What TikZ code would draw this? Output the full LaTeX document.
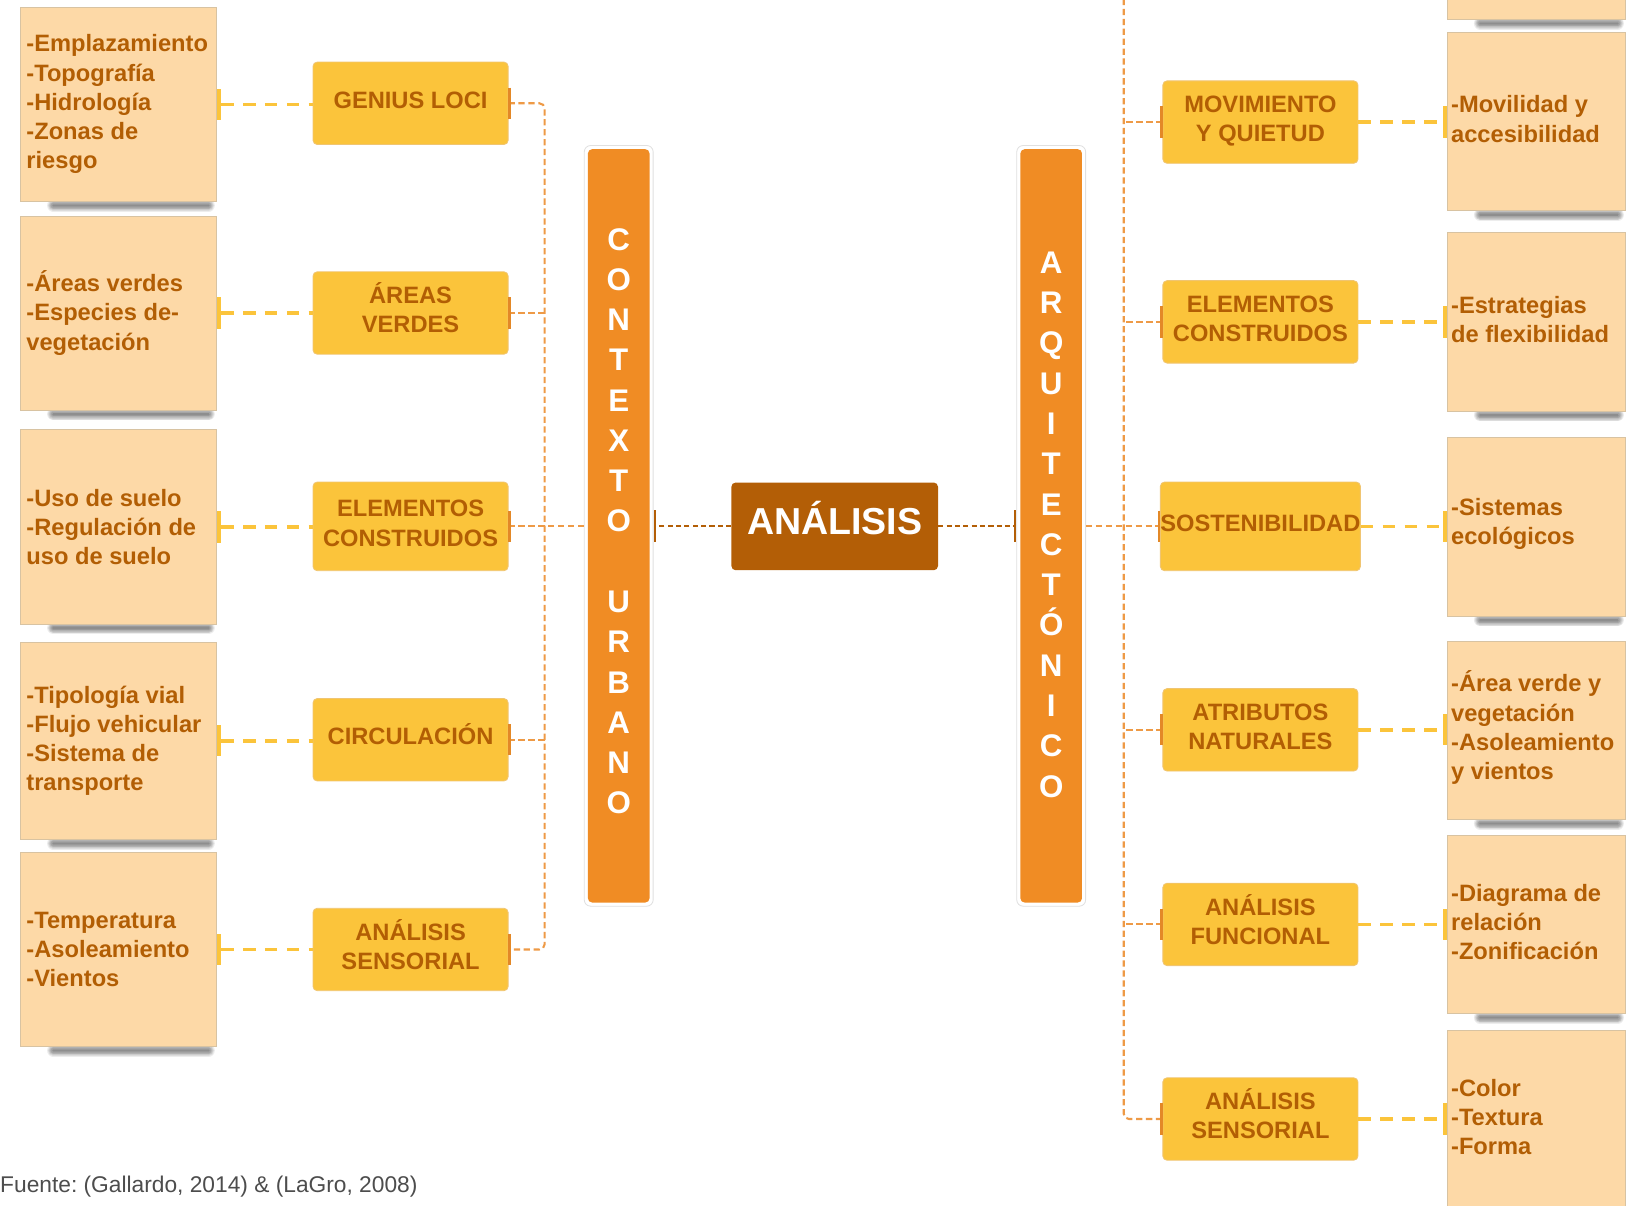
\documentclass[tikz,border=0pt]{standalone}
\usepackage{fontspec}
\setmainfont{Liberation Sans}
\usetikzlibrary{calc}
\definecolor{notefill}{HTML}{FDD9A7}
\definecolor{noteborder}{HTML}{D8C3A2}
\definecolor{midfill}{HTML}{FBC43B}
\definecolor{midborder}{HTML}{F0C572}
\definecolor{txtbrown}{HTML}{B25E04}
\definecolor{barfill}{HTML}{F08C24}
\definecolor{anafill}{HTML}{B35E06}
\definecolor{treeorange}{HTML}{EE9A46}
\definecolor{tickorange}{HTML}{E38827}
\definecolor{yellowdash}{HTML}{FBC43B}
\definecolor{footgray}{HTML}{4D4D4D}
\pgfdeclarelayer{bg}
\pgfsetlayers{bg,main}
\frenchspacing
\begin{document}
\begin{tikzpicture}[x=1pt,y=-1pt,
  notebox/.style={rectangle, fill=notefill, draw=noteborder, line width=0.8pt, inner sep=0pt},
  lnote/.style={notebox, minimum width=188pt, minimum height=186pt},
  rnote/.style={notebox, minimum width=171pt, minimum height=171pt},
  notetext/.style={anchor=west, align=left, inner sep=0pt, text=txtbrown, font=\bfseries\fontsize{22.7}{28}\selectfont},
  midbox/.style={rectangle, rounded corners=4pt, fill=midfill, draw=midborder, line width=0.8pt, minimum width=187pt, minimum height=79pt, align=center, inner sep=0pt, text height=10pt, text depth=0pt, text=txtbrown, font=\bfseries\fontsize{22.7}{28}\selectfont},
  midtwo/.style={midbox, text height=38pt, text depth=0pt},
  barframe/.style={rectangle, rounded corners=6pt, fill=white, draw=black!12, line width=0.8pt, minimum width=66pt, minimum height=729pt, inner sep=0pt},
  barbox/.style={rectangle, rounded corners=4pt, fill=barfill, minimum width=59pt, minimum height=722pt, inner sep=0pt},
  barletters/.style={align=center, inner sep=0pt, text=white, font=\bfseries\fontsize{30}{38.6}\selectfont},
  yellowline/.style={draw=yellowdash, line width=3.5pt, dash pattern=on 12pt off 9pt},
  treeline/.style={draw=treeorange, line width=2pt, dash pattern=on 6pt off 3.5pt},
  brownline/.style={draw=anafill, line width=2pt, dash pattern=on 5pt off 3pt},
  ticko/.style={draw=tickorange, line width=2.5pt},
  tickb/.style={draw=anafill, line width=2pt},
]
\useasboundingbox (0,0) rectangle (1568,1155);
\clip (0,0) rectangle (1568,1155);

% ---------- left notes ----------
\node[lnote] (L1) at (113.5,100) {};
\node[lnote] (L2) at (113.5,300) {};
\node[lnote] (L3) at (113.5,505) {};
\node[lnote, minimum height=189pt] (L4) at (113.5,710) {};
\node[lnote] (L5) at (113.5,910) {};
\node[notetext] (L1t) at ([xshift=6pt]L1.west) {-Emplazamiento\\-Topografía\\-Hidrología\\-Zonas de\\riesgo};
\node[notetext] (L2t) at ([xshift=6pt]L2.west) {-Áreas verdes\\-Especies de-\\vegetación};
\node[notetext] (L3t) at ([xshift=6pt]L3.west) {-Uso de suelo\\-Regulación de\\uso de suelo};
\node[notetext] (L4t) at ([xshift=6pt]L4.west) {-Tipología vial\\-Flujo vehicular\\-Sistema de\\transporte};
\node[notetext] (L5t) at ([xshift=6pt]L5.west) {-Temperatura\\-Asoleamiento\\-Vientos};

% ---------- left mid boxes ----------
\node[midbox] (M1) at (393.5,99) {GENIUS LOCI};
\node[midtwo] (M2) at (393.5,300) {ÁREAS\\VERDES};
\node[midtwo, minimum height=85pt] (M3) at (393.5,504.5) {ELEMENTOS\\CONSTRUIDOS};
\node[midbox] (M4) at (393.5,709) {CIRCULACIÓN};
\node[midtwo] (M5) at (393.5,910) {ANÁLISIS\\SENSORIAL};

% ---------- bars ----------
\node[barframe] (ctxf) at (593,504) {};
\node[barbox] (ctx) at (593,504) {};
\node[barletters] (ctxl) at (593,499.5) {C\\O\\N\\T\\E\\X\\T\\O\\\mbox{}\\U\\R\\B\\A\\N\\O};
\node[barframe] (arqf) at (1007.5,504) {};
\node[barbox] (arq) at (1007.5,504) {};
\node[barletters] (arql) at (1007.5,502.8) {A\\R\\Q\\U\\I\\T\\E\\C\\T\\Ó\\N\\I\\C\\O};

% ---------- center ----------
\node[rectangle, rounded corners=4pt, fill=anafill, minimum width=198pt, minimum height=84pt, inner sep=0pt] (ana) at (800,504.5) {};
\node[anchor=base, inner sep=0pt, text=white, font=\bfseries\fontsize{36}{40}\selectfont] (anal) at (800,512) {ANÁLISIS};

% ---------- right mid boxes ----------
\node[midtwo] (N1) at (1208,117) {MOVIMIENTO\\Y QUIETUD};
\node[midtwo] (N2) at (1208,308.5) {ELEMENTOS\\CONSTRUIDOS};
\node[midbox, minimum height=85pt] (N3) at (1208,504.5) {SOSTENIBILIDAD};
\node[midtwo] (N4) at (1208,699.5) {ATRIBUTOS\\NATURALES};
\node[midtwo] (N5) at (1208,886) {ANÁLISIS\\FUNCIONAL};
\node[midtwo] (N6) at (1208,1072.5) {ANÁLISIS\\SENSORIAL};

% ---------- right notes ----------
\node[rnote] (R0) at (1472.5,-67) {};
\node[rnote] (R1) at (1472.5,116.5) {};
\node[rnote] (R2) at (1472.5,308.5) {};
\node[rnote] (R3) at (1472.5,505) {};
\node[rnote] (R4) at (1472.5,700) {};
\node[rnote] (R5) at (1472.5,886) {};
\node[rnote] (R6) at (1472.5,1073) {};
\node[notetext] (R1t) at ([xshift=4pt,yshift=2.5pt]R1.west) {-Movilidad y\\accesibilidad};
\node[notetext] (R2t) at ([xshift=4pt,yshift=2.5pt]R2.west) {-Estrategias\\de flexibilidad};
\node[notetext] (R3t) at ([xshift=4pt,yshift=2.5pt]R3.west) {-Sistemas\\ecológicos};
\node[notetext] (R4t) at ([xshift=4pt,yshift=2.5pt]R4.west) {-Área verde y\\vegetación\\-Asoleamiento\\y vientos};
\node[notetext] (R5t) at ([xshift=4pt,yshift=2.5pt]R5.west) {-Diagrama de\\relación\\-Zonificación};
\node[notetext] (R6t) at ([xshift=4pt,yshift=2.5pt]R6.west) {-Color\\-Textura\\-Forma};

% ---------- shadows ----------
\begin{pgfonlayer}{bg}
\foreach \n in {L1,L2,L3,L4,L5,R0,R1,R2,R3,R4,R5,R6}{
  \foreach \w in {1.5,3,4.5,6,7.5,9,10.5,12}{
    \draw[line width=\w pt, black, opacity=0.07, line cap=round]
      ([xshift=32pt,yshift=-3.5pt]\n.south west) -- ([xshift=-8pt,yshift=-3.5pt]\n.south east);
  }
}
\end{pgfonlayer}

% ---------- yellow connectors ----------
\foreach \a/\b in {L1/M1,L2/M2,L3/M3,L4/M4,L5/M5}{
  \draw[yellowline] ([xshift=4pt]\a.east) -- (\a.east -| \b.west);
  \fill[yellowdash] ([yshift=15pt]\a.east) rectangle ([xshift=4pt,yshift=-15pt]\a.east);
}
\foreach \a/\b in {N1/R1,N2/R2,N3/R3,N4/R4,N5/R5,N6/R6}{
  \draw[yellowline] (\a.east) -- ([xshift=-4pt]\a.east -| \b.west);
  \fill[yellowdash] ([xshift=-4pt,yshift=15pt]\a.east -| \b.west) rectangle ([yshift=-15pt]\a.east -| \b.west);
}

% ---------- left tree ----------
\coordinate (busL) at (522,0);
\draw[treeline, rounded corners=5pt] (M1.east) -- (M1.east -| busL) -- (M5.east -| busL) -- (M5.east);
\foreach \m in {M2,M3,M4}{ \draw[treeline] (\m.east) -- (\m.east -| busL); }
\draw[treeline] (ctxf.west) -- (ctxf.west -| busL);
\foreach \m in {M1,M2,M3,M4,M5}{
  \draw[ticko] ([xshift=1pt,yshift=15pt]\m.east) -- ([xshift=1pt,yshift=-15pt]\m.east);
}

% ---------- right tree ----------
\coordinate (busR) at (1077,-20);
\draw[treeline, rounded corners=5pt] (busR) -- (busR |- N6.west) -- (N6.west);
\foreach \m in {N1,N2,N4,N5}{ \draw[treeline] (\m.west) -- (\m.west -| busR); }
\draw[treeline] (arqf.east) -- (arqf.east -| N3.west);
\foreach \m in {N1,N2,N3,N4,N5,N6}{
  \draw[ticko] ([xshift=-1pt,yshift=15pt]\m.west) -- ([xshift=-1pt,yshift=-15pt]\m.west);
}

% ---------- brown connectors ----------
\draw[brownline] (ana.west) -- (ana.west -| ctxf.east);
\draw[brownline] (ana.east) -- (ana.east -| arqf.west);
\draw[tickb] ([xshift=1pt,yshift=15pt]ctxf.east) -- ([xshift=1pt,yshift=-15pt]ctxf.east);
\draw[tickb] ([xshift=-1pt,yshift=15pt]arqf.west) -- ([xshift=-1pt,yshift=-15pt]arqf.west);

% ---------- footer ----------
\node[anchor=west, inner sep=0pt, text=footgray, font=\fontsize{21.8}{26}\selectfont] (src) at (0,1137) {Fuente: (Gallardo, 2014) \& (LaGro, 2008)};
\end{tikzpicture}
\end{document}
